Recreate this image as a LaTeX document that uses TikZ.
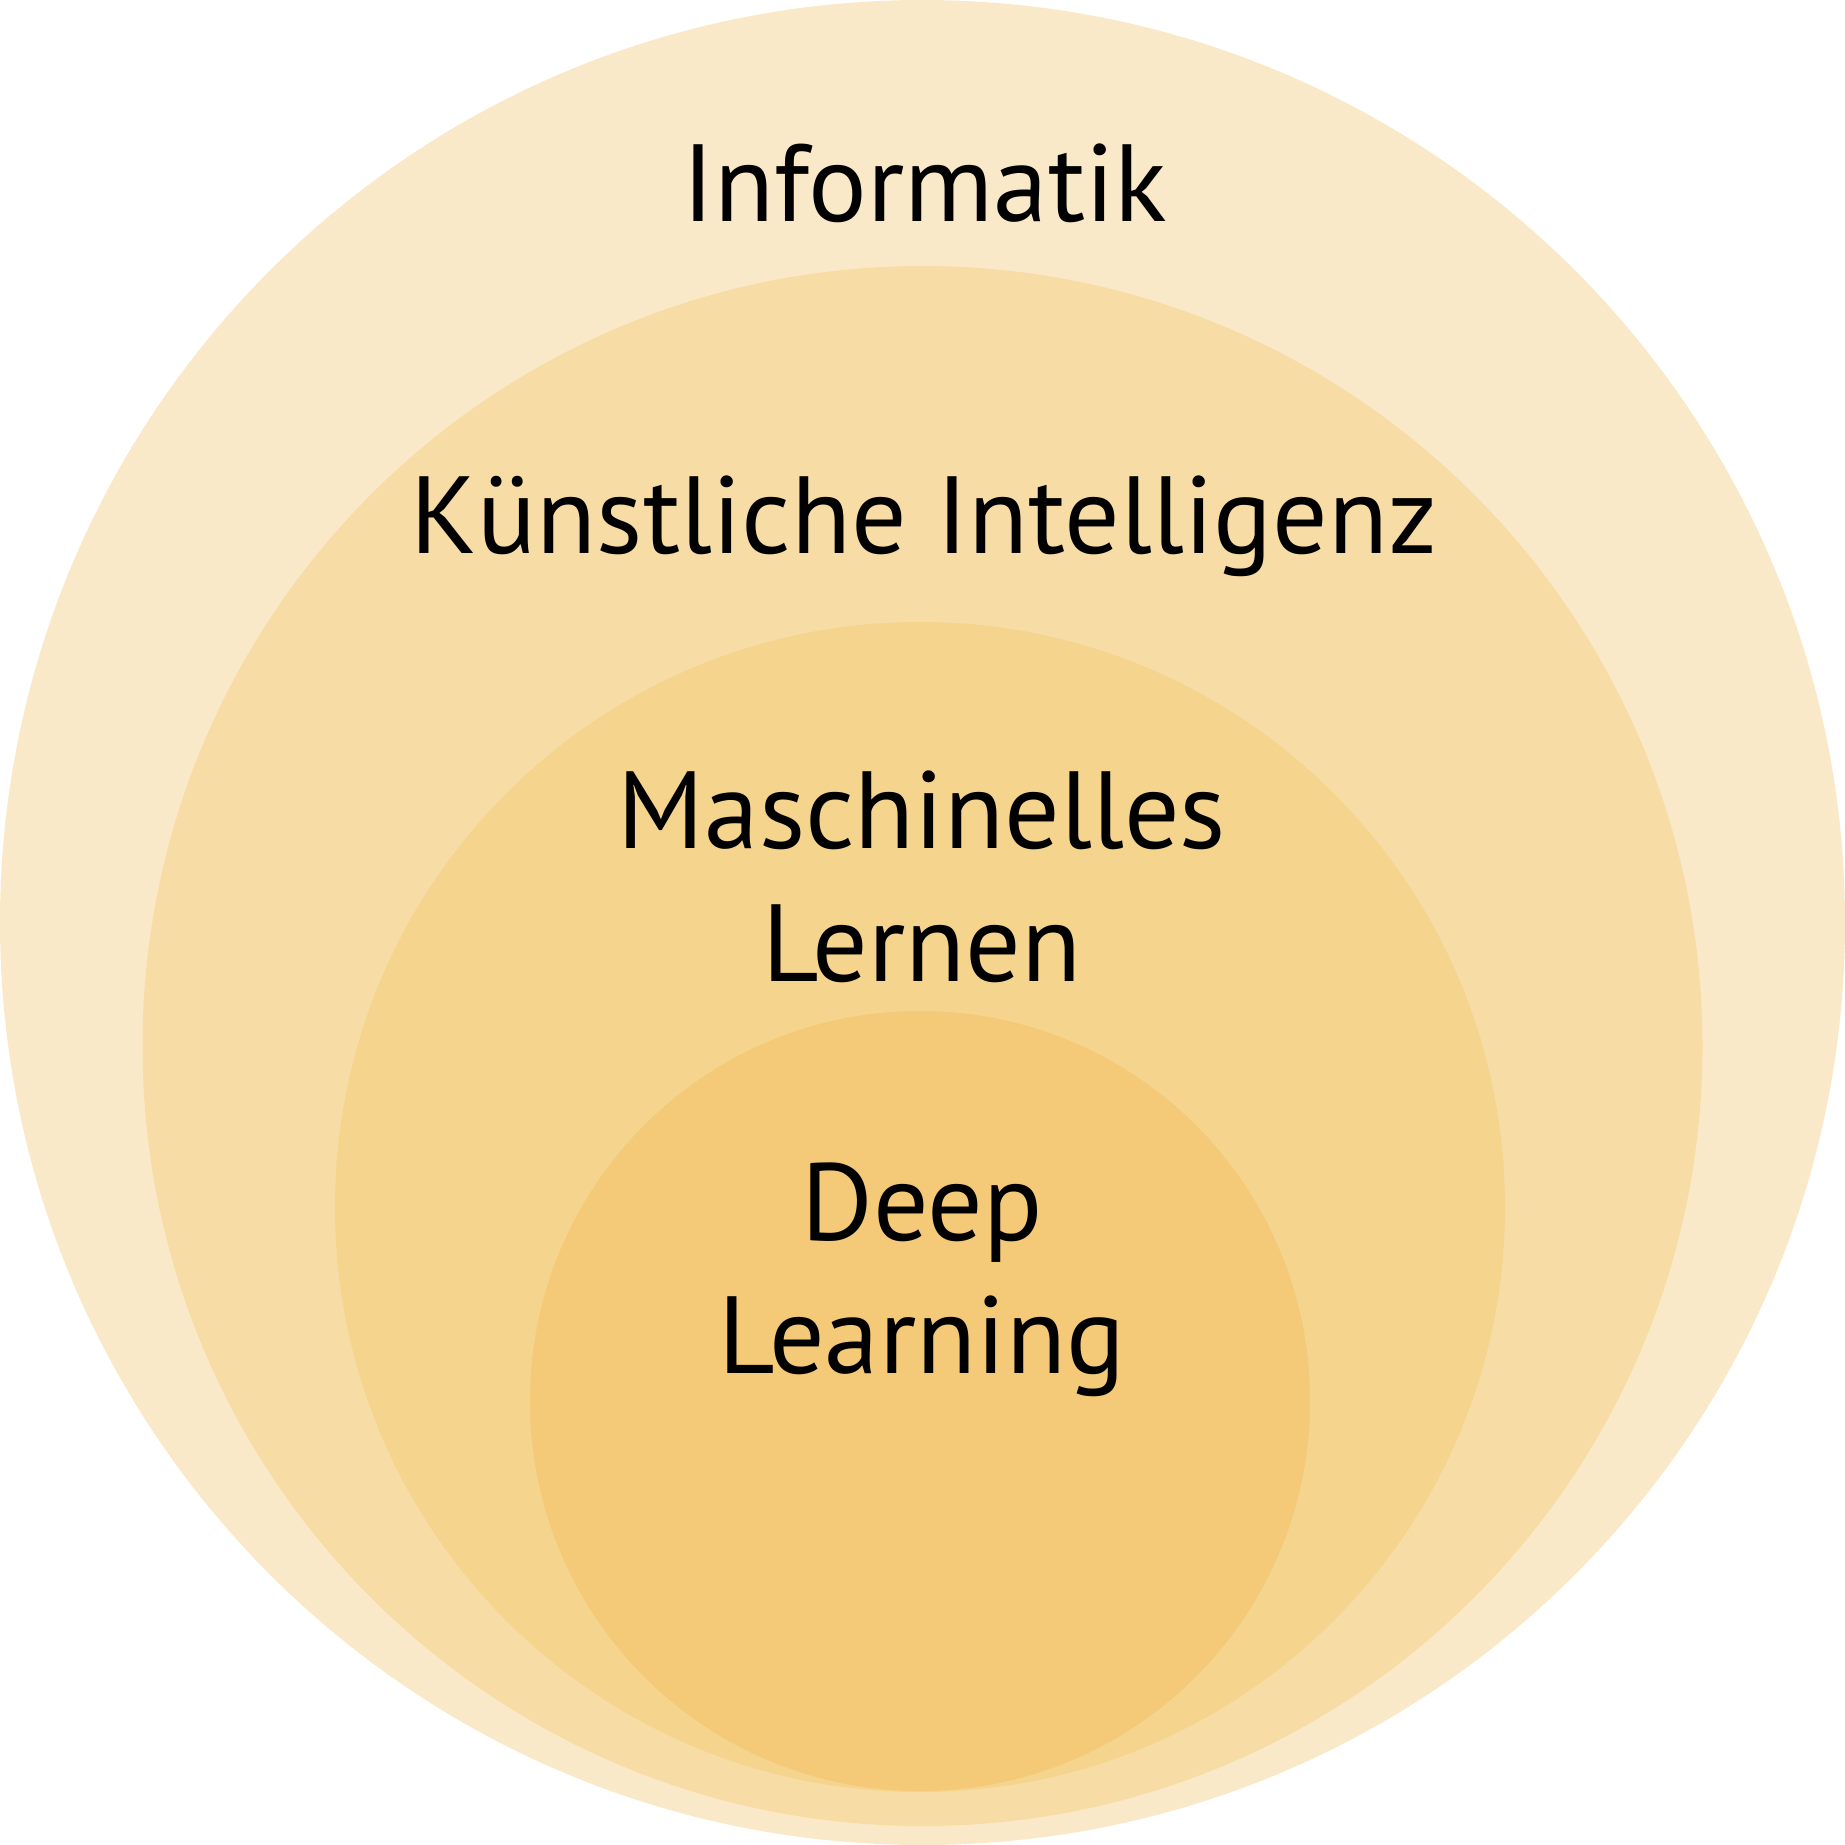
\documentclass[tikz,border=0pt]{standalone}
\usepackage{fontspec}
\setmainfont{PT Sans}
\definecolor{c1}{HTML}{FAE9C8}
\definecolor{c2}{HTML}{F8DCA5}
\definecolor{c3}{HTML}{F5D48E}
\definecolor{c4}{HTML}{F4C977}
\begin{document}
\begin{tikzpicture}[x=0.01cm,y=0.01cm,
  lbl/.style={inner sep=0pt, align=center, font=\fontsize{31.2}{37.8}\selectfont, text=black}]
\useasboundingbox (0,0) rectangle (1845,-1845);
\fill[c1] (922.5,-922.5) circle[radius=922.5];
\fill[c2] (922.5,-1046) circle[radius=780];
\fill[c3] (920,-1207) circle[radius=585];
\fill[c4] (920,-1401) circle[radius=390];
\node[lbl, anchor=base] (inf) at (925,-221) {Informatik};
\node[lbl, anchor=base] (ki) at (924,-553) {Künstliche Intelligenz};
\node[lbl, anchor=base] (ml) at (922,-981) {Maschinelles\\Lernen};
\node[lbl, anchor=base] (dl) at (922,-1373) {Deep\\Learning};
\end{tikzpicture}
\end{document}
